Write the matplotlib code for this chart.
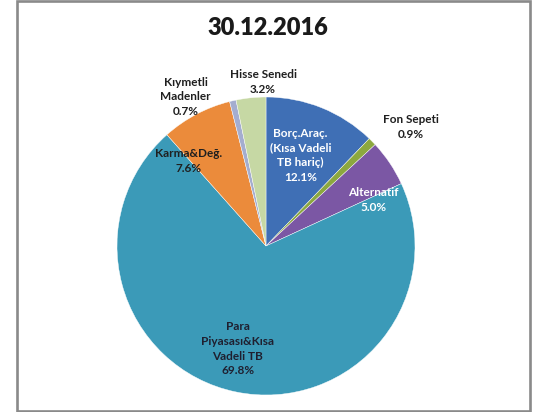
import matplotlib
matplotlib.use("Agg")
import matplotlib.pyplot as plt
from matplotlib.patches import Rectangle

plt.rcParams['font.family'] = ['Lato', 'DejaVu Sans']

# fund distribution, clockwise from 12 o'clock
labels = ["Borç.Araç.\n(Kısa Vadeli\nTB hariç)", "Fon Sepeti", "Alternatif",
          "Para\nPiyasası&Kısa\nVadeli TB", "Karma&Değ.", "Kıymetli\nMadenler",
          "Hisse Senedi"]
shares = [12.1, 0.9, 5.0, 69.8, 7.6, 0.7, 3.2]
colors = ["#3f6fb5", "#8ca83f", "#7b57a4", "#3b9ab8", "#eb8b3b", "#a4adcf", "#c6d8a4"]
text_colors = ["white", "#1f1f1f", "white", "#1f1f2f", "#1f1f1f", "#1f1f1f", "#1f1f1f"]
# label anchor points, in pie radii from the centre
label_pos = [(0.23, 0.61), (0.97, 0.80), (0.72, 0.31), (-0.19, -0.69),
             (-0.52, 0.57), (-0.54, 1.00), (-0.02, 1.10)]

W, H = 534, 412
cx, cy, R = 266, 246, 149

fig = plt.figure(figsize=(W / 100, H / 100), dpi=100)
ax = fig.add_axes([0, 0, 1, 1])

ax.pie(shares, colors=colors, startangle=90, counterclock=False, radius=1,
       wedgeprops=dict(edgecolor="white", linewidth=0.3))

for lab, val, pos, tc in zip(labels, shares, label_pos, text_colors):
    ax.text(pos[0], pos[1], "%s\n%.1f%%" % (lab, val), ha="center", va="center",
            fontsize=8.5, fontweight="bold", color=tc, linespacing=1.4)

ax.set_xlim(-cx / R, (W - cx) / R)
ax.set_ylim((cy - H) / R, cy / R)
ax.set_aspect("equal", adjustable="box")
ax.axis("off")

fig.text(268 / W, 1 - 28 / H, "30.12.2016", ha="center", va="center",
         fontsize=17, fontweight="heavy", color="#1a1a1a")

fig.patches.append(Rectangle((16.5 / W, 1 / H), 513 / W, 410 / H,
                             transform=fig.transFigure, fill=False,
                             edgecolor="#8a8a8a", linewidth=1.9))

fig.savefig("out.png", dpi=100)
